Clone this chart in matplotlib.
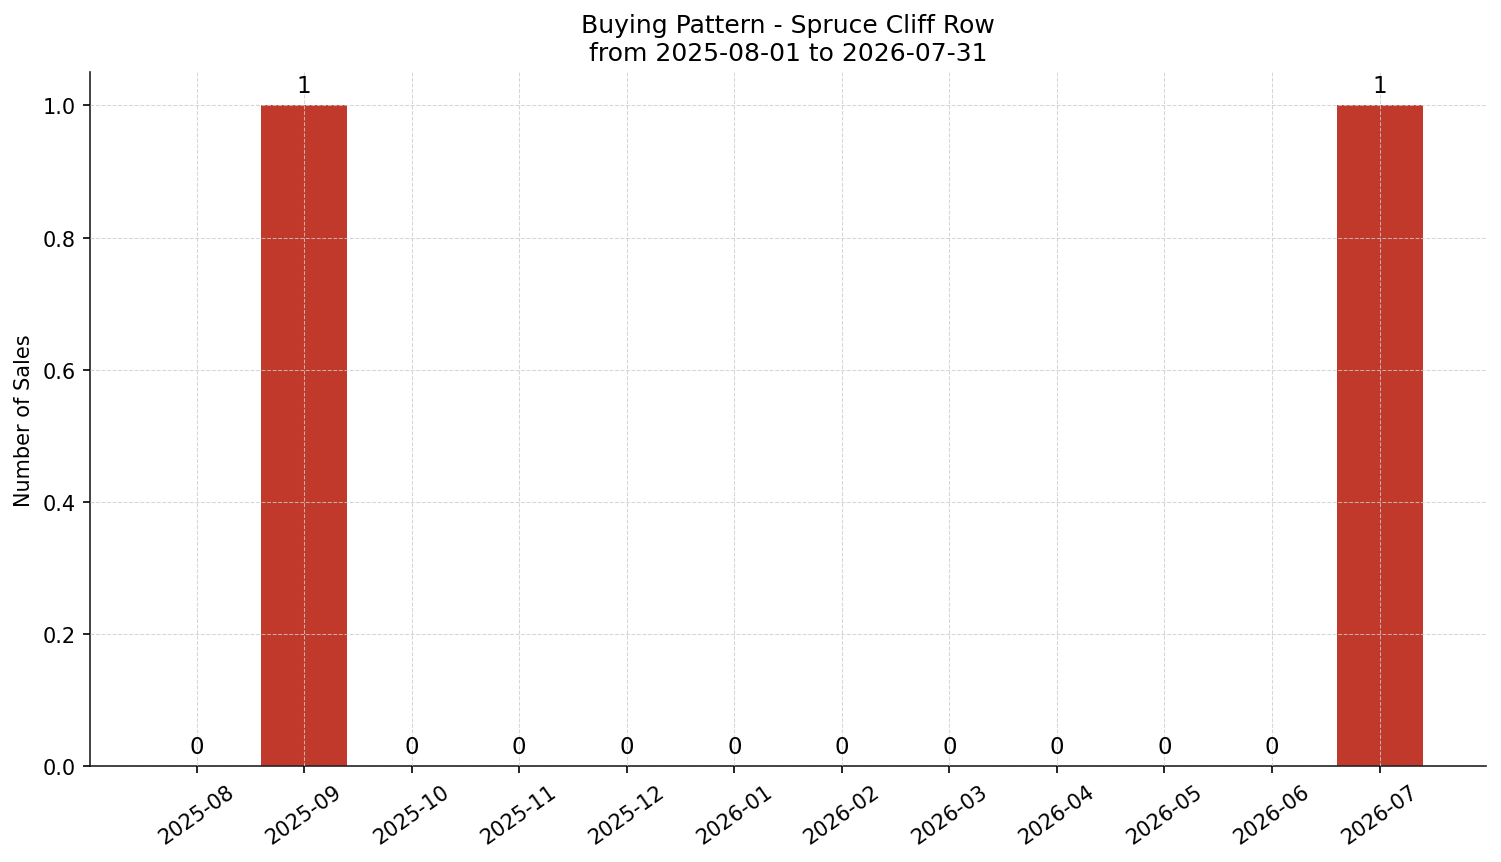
import matplotlib
matplotlib.use('Agg')
import matplotlib.pyplot as plt
import numpy as np

months = ['2025-08', '2025-09', '2025-10', '2025-11', '2025-12', '2026-01',
          '2026-02', '2026-03', '2026-04', '2026-05', '2026-06', '2026-07']
sales = [0, 1, 0, 0, 0, 0, 0, 0, 0, 0, 0, 1]

fig, ax = plt.subplots(figsize=(10.007, 5.753), dpi=150)
x = np.arange(len(months))
bars = ax.bar(x, sales, width=0.8, color='#c0392b')
ax.bar_label(bars, labels=[str(v) for v in sales], padding=4, fontsize=11)

ax.set_xticks(x)
ax.set_xticklabels(months, rotation=35, fontsize=10)
ax.tick_params(axis='y', labelsize=10)
ax.set_ylabel('Number of Sales', fontsize=10)
ax.set_title('Buying Pattern - Spruce Cliff Row\nfrom 2025-08-01 to 2026-07-31', fontsize=12)

ax.set_axisbelow(False)
ax.grid(True, linestyle='--', color='#cccccc', alpha=0.8, linewidth=0.5)
ax.spines['top'].set_visible(False)
ax.spines['right'].set_visible(False)
for s in ['left', 'bottom']:
    ax.spines[s].set_color('#222222')

plt.subplots_adjust(left=0.06, right=0.99, top=0.915, bottom=0.111)
plt.savefig('out.png', dpi=150)
